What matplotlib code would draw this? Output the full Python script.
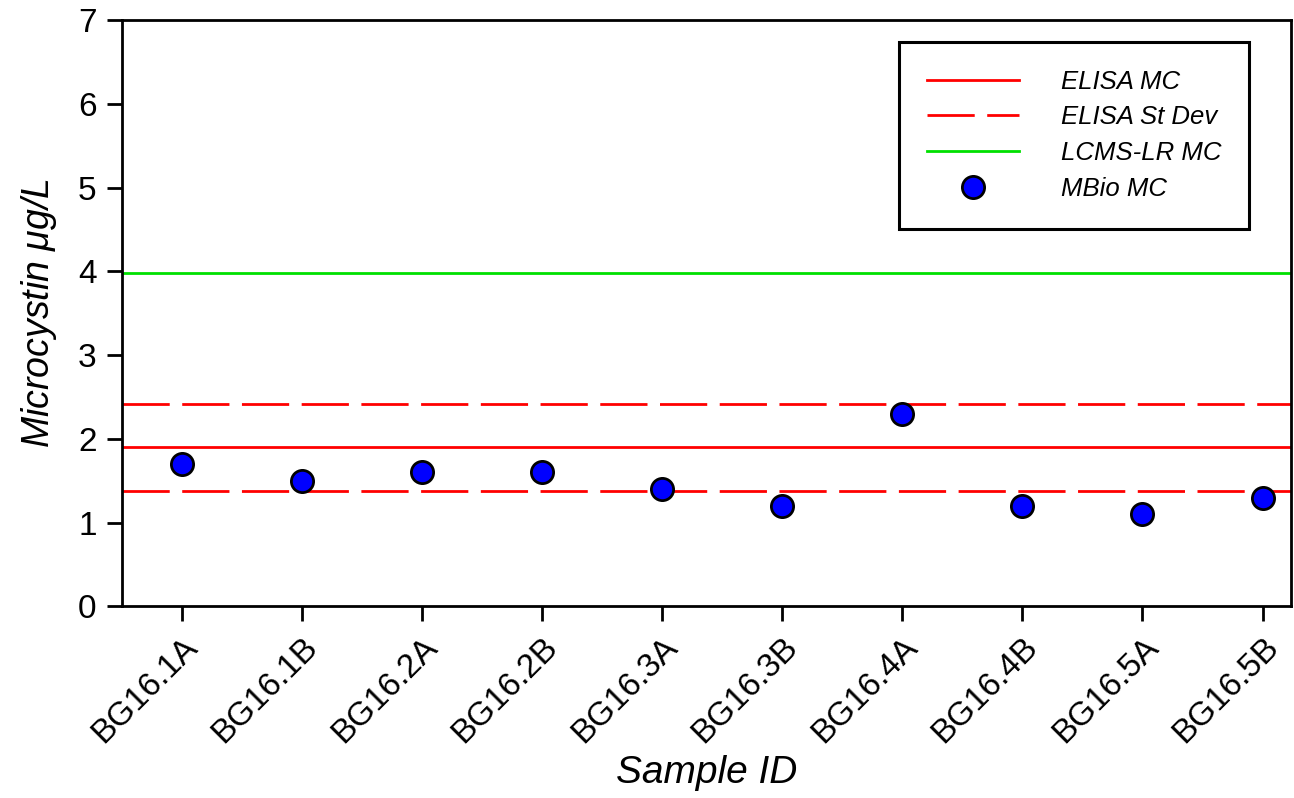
import numpy as np
import matplotlib
matplotlib.use("Agg")
import matplotlib.pyplot as plt

plt.rcParams['font.family'] = ['Liberation Sans', 'DejaVu Sans']
plt.rcParams['mathtext.fontset'] = 'custom'
plt.rcParams['mathtext.it'] = 'Liberation Sans:italic'

# sample IDs and measured microcystin (ug/L)
samples = ['BG16.1A', 'BG16.1B', 'BG16.2A', 'BG16.2B', 'BG16.3A',
           'BG16.3B', 'BG16.4A', 'BG16.4B', 'BG16.5A', 'BG16.5B']
mbio_mc = [1.7, 1.5, 1.6, 1.6, 1.4, 1.2, 2.3, 1.2, 1.1, 1.3]

# reference levels
elisa_mc = 1.9
elisa_sd = 0.52
lcms_lr_mc = 3.98

fig = plt.figure(figsize=(12.94, 7.98), dpi=100)
ax = fig.add_axes([0.094, 0.24, 0.904, 0.735])

x = np.arange(len(samples))
ax.axhline(elisa_mc, color='red', lw=2, label='ELISA MC')
ax.axhline(elisa_mc + elisa_sd, color='red', lw=2, dashes=(17, 4.5), label='ELISA St Dev')
ax.axhline(elisa_mc - elisa_sd, color='red', lw=2, dashes=(17, 4.5))
ax.axhline(lcms_lr_mc, color='#00e000', lw=2, label='LCMS-LR MC')
ax.plot(x, mbio_mc, 'o', ms=16, mfc='#0000ff', mec='black', mew=2,
        label='MBio MC', zorder=5)

ax.set_xlim(-0.5, 9.24)
ax.set_ylim(0, 7)
ax.set_yticks(range(8))
ax.set_xticks(x)
ax.set_xticklabels(samples, rotation=45, ha='right', rotation_mode='anchor')
ax.tick_params(direction='out', length=11, width=2, labelsize=24, pad=7)
for s in ax.spines.values():
    s.set_linewidth(2)

ax.set_ylabel(r'Microcystin $\mu$g/L', fontsize=27, style='italic', labelpad=14)
ax.set_xlabel('Sample ID', fontsize=28, style='italic', labelpad=4)

leg = ax.legend(loc='upper right', bbox_to_anchor=(0.964, 0.963),
                prop={'style': 'italic', 'size': 18.5}, fancybox=False,
                edgecolor='black', framealpha=1, handlelength=3.6,
                handletextpad=1.6, borderpad=1.1, labelspacing=0.45,
                borderaxespad=0)
leg.get_frame().set_linewidth(2.2)

fig.savefig('out.png', dpi=100)
